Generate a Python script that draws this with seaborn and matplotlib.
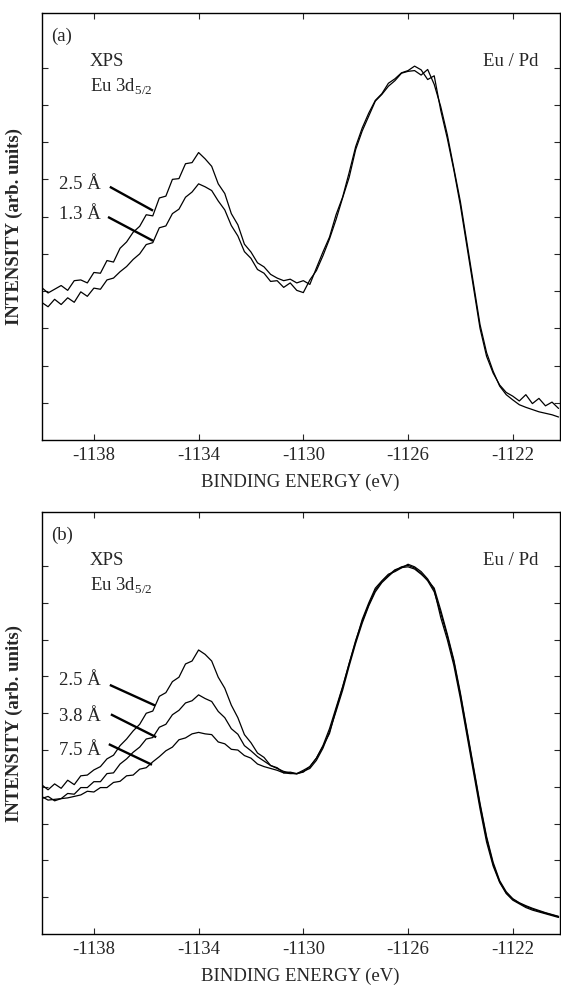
#!/usr/bin/env python3
"""
XPS Eu 3d5/2 spectra of Eu on Pd for several Eu coverages
"""

import numpy as np
import pandas as pd
import matplotlib
matplotlib.use("Agg")
import matplotlib.pyplot as plt
import seaborn as sns

# binding energy grid (eV), 0.25 eV steps
energy = np.arange(-1140.0, -1120.0, 0.25)

# panel (a): normalised intensity (arb. units)
a_25 = [4.10, 3.95, 4.05, 4.15, 4.02, 4.28, 4.30, 4.22,
        4.50, 4.48, 4.82, 4.78, 5.15, 5.32, 5.58, 5.74,
        6.05, 6.02, 6.50, 6.55, 7.00, 7.02, 7.42, 7.45,
        7.72, 7.55, 7.35, 6.88, 6.62, 6.08, 5.78, 5.26,
        5.05, 4.76, 4.65, 4.45, 4.35, 4.28, 4.32, 4.22,
        4.28, 4.18, 4.62, 5.05, 5.45, 6.05, 6.52, 7.18,
        7.88, 8.38, 8.78, 9.12, 9.30, 9.58, 9.70, 9.86,
        9.92, 10.04, 9.94, 9.68, 9.78, 8.85, 8.10, 7.25,
        6.30, 5.20, 4.10, 3.00, 2.25, 1.80, 1.48, 1.28,
        1.18, 1.05, 1.22, 0.98, 1.12, 0.92, 1.02, 0.85]
a_13 = [3.70, 3.58, 3.78, 3.64, 3.82, 3.70, 3.98, 3.86,
        4.08, 4.05, 4.30, 4.35, 4.52, 4.66, 4.85, 5.00,
        5.25, 5.30, 5.70, 5.75, 6.08, 6.20, 6.52, 6.66,
        6.88, 6.80, 6.70, 6.42, 6.18, 5.76, 5.48, 5.06,
        4.88, 4.58, 4.48, 4.26, 4.28, 4.10, 4.22, 4.02,
        3.96, 4.30, 4.55, 4.95, 5.40, 5.92, 6.50, 7.05,
        7.80, 8.30, 8.70, 9.10, 9.28, 9.50, 9.65, 9.85,
        9.90, 9.92, 9.80, 9.95, 9.55, 8.95, 8.20, 7.30,
        6.40, 5.30, 4.20, 3.10, 2.35, 1.85, 1.45, 1.22,
        1.08, 0.95, 0.88, 0.82, 0.76, 0.72, 0.68, 0.62]

# panel (b)
b_25 = [4.06, 3.92, 4.08, 3.96, 4.18, 4.06, 4.30, 4.32,
        4.46, 4.55, 4.76, 4.86, 5.12, 5.30, 5.52, 5.70,
        6.00, 6.06, 6.46, 6.56, 6.86, 6.98, 7.34, 7.42,
        7.72, 7.60, 7.42, 6.98, 6.68, 6.22, 5.88, 5.42,
        5.20, 4.92, 4.80, 4.58, 4.52, 4.38, 4.36, 4.36,
        4.40, 4.55, 4.78, 5.10, 5.45, 6.10, 6.70, 7.35,
        7.95, 8.55, 9.00, 9.40, 9.60, 9.78, 9.85, 9.95,
        10.05, 9.98, 9.85, 9.65, 9.35, 8.60, 8.00, 7.30,
        6.40, 5.40, 4.40, 3.40, 2.50, 1.85, 1.40, 1.10,
        0.92, 0.82, 0.72, 0.65, 0.60, 0.55, 0.50, 0.45]
b_38 = [3.74, 3.64, 3.66, 3.68, 3.82, 3.80, 3.98, 3.98,
        4.14, 4.14, 4.36, 4.38, 4.62, 4.76, 4.94, 5.08,
        5.30, 5.34, 5.62, 5.70, 5.96, 6.08, 6.28, 6.34,
        6.50, 6.40, 6.32, 6.05, 5.88, 5.58, 5.43, 5.12,
        4.98, 4.82, 4.70, 4.58, 4.50, 4.42, 4.38, 4.35,
        4.42, 4.50, 4.72, 5.05, 5.50, 6.05, 6.62, 7.28,
        7.90, 8.45, 8.92, 9.30, 9.55, 9.72, 9.88, 9.98,
        10.02, 9.95, 9.80, 9.60, 9.30, 8.72, 8.10, 7.40,
        6.50, 5.50, 4.50, 3.50, 2.60, 1.90, 1.42, 1.12,
        0.95, 0.84, 0.75, 0.68, 0.62, 0.57, 0.52, 0.47]
b_75 = [3.68, 3.74, 3.62, 3.68, 3.70, 3.74, 3.78, 3.88,
        3.86, 3.98, 3.98, 4.12, 4.15, 4.30, 4.32, 4.48,
        4.52, 4.68, 4.82, 4.98, 5.08, 5.28, 5.33, 5.44,
        5.48, 5.44, 5.42, 5.22, 5.17, 5.02, 5.00, 4.85,
        4.78, 4.62, 4.55, 4.50, 4.45, 4.38, 4.40, 4.36,
        4.45, 4.55, 4.78, 5.12, 5.58, 6.15, 6.72, 7.35,
        7.98, 8.50, 8.95, 9.35, 9.58, 9.75, 9.90, 9.96,
        9.98, 9.92, 9.78, 9.62, 9.40, 8.80, 8.15, 7.45,
        6.55, 5.55, 4.55, 3.55, 2.65, 1.95, 1.45, 1.15,
        0.96, 0.85, 0.77, 0.70, 0.64, 0.58, 0.53, 0.48]

panel_a = {"2.5 Å": a_25, "1.3 Å": a_13}
panel_b = {"2.5 Å": b_25, "3.8 Å": b_38, "7.5 Å": b_75}

xticks = [-1138, -1134, -1130, -1126, -1122]

# label text (right edge x, y) and leader line (x0, y0, x1, y1) in data units
a_labels = [((-1137.75, 6.85), (-1137.39, 6.80, -1135.74, 6.16)),
            ((-1137.75, 6.05), (-1137.46, 5.99, -1135.74, 5.35))]
b_labels = [((-1137.75, 6.90), (-1137.39, 6.77, -1135.66, 6.21)),
            ((-1137.75, 5.92), (-1137.35, 5.97, -1135.62, 5.35)),
            ((-1137.75, 5.00), (-1137.43, 5.16, -1135.78, 4.60))]

sns.set_style("ticks")
plt.rcParams['font.family'] = ['Liberation Serif', 'DejaVu Serif']
plt.rcParams['mathtext.fontset'] = 'custom'
plt.rcParams['mathtext.rm'] = 'Liberation Serif'
plt.rcParams['font.size'] = 13


def draw_panel(ax, curves, labels, tag):
    df = pd.DataFrame({"energy": np.tile(energy, len(curves)),
                       "intensity": np.concatenate([np.asarray(v) for v in curves.values()]),
                       "thickness": np.repeat(list(curves.keys()), len(energy))})
    sns.lineplot(data=df, x="energy", y="intensity", units="thickness",
                 estimator=None, sort=False, color="black", lw=0.9, ax=ax)

    for name, ((tx, ty), (x0, y0, x1, y1)) in zip(curves.keys(), labels):
        ax.text(tx, ty, name, ha="right", va="center", fontsize=13.5)
        ax.plot([x0, x1], [y0, y1], color="black", lw=1.7, solid_capstyle="butt")

    ax.set_xlim(-1140.0, -1120.2)
    ax.set_ylim(0, 11.47)
    ax.set_xticks(xticks)
    ax.set_xticklabels([str(t) for t in xticks])
    ax.set_yticks(range(1, 11))
    ax.set_yticklabels([])
    ax.tick_params(direction="in", top=True, right=True, length=4, width=0.8,
                   labelsize=13.5, pad=5)
    for s in ax.spines.values():
        s.set_linewidth(1.0)
        s.set_color("black")

    ax.set_xlabel("BINDING ENERGY (eV)", fontsize=13.5, labelpad=7)
    ax.set_ylabel("INTENSITY (arb. units)", fontsize=13.5, fontweight="bold", labelpad=8)

    ax.text(0.018, 0.945, tag, transform=ax.transAxes, ha="left", va="center", fontsize=13.5)
    ax.text(0.093, 0.885, "XPS", transform=ax.transAxes, ha="left", va="center", fontsize=13.5)
    ax.text(0.093, 0.826, r"Eu 3d$_{\mathrm{5/2}}$", transform=ax.transAxes,
            ha="left", va="center", fontsize=13.5)
    ax.text(0.958, 0.885, "Eu / Pd", transform=ax.transAxes, ha="right", va="center",
            fontsize=13.5)


fig = plt.figure(figsize=(5.61, 9.89), dpi=100)
ax_a = fig.add_axes([0.074, 0.555, 0.924, 0.432])
ax_b = fig.add_axes([0.074, 0.0556, 0.924, 0.4267])

draw_panel(ax_a, panel_a, a_labels, "(a)")
draw_panel(ax_b, panel_b, b_labels, "(b)")

fig.savefig("out.png", dpi=100)
